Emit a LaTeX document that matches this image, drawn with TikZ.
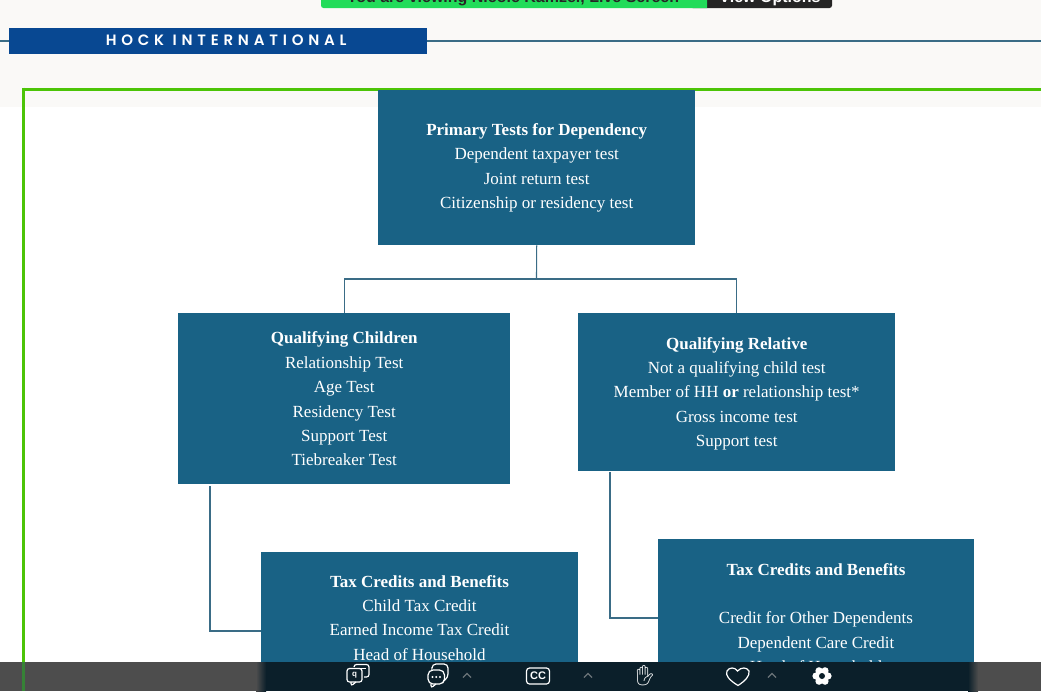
\documentclass[tikz,border=0pt]{standalone}
\usepackage{fontspec}
\setmainfont{Liberation Serif}
\newfontfamily\hockfont{Poppins SemiBold}
\newfontfamily\uifont{Liberation Sans}
\newfontfamily\emojifont{Noto Emoji}
\usetikzlibrary{positioning}
\definecolor{boxblue}{HTML}{196285}
\definecolor{linkblue}{HTML}{3A6C86}
\definecolor{hockblue}{HTML}{084892}
\definecolor{framegreen}{HTML}{4CC407}
\definecolor{pagegrey}{HTML}{FAF9F7}
\definecolor{bannergreen}{HTML}{22DC5A}
\definecolor{bannerdark}{HTML}{252525}
\definecolor{bargrey}{HTML}{4D4D4D}
\definecolor{bardark}{HTML}{0B1F2A}
\definecolor{chevgrey}{HTML}{6A7378}
\tikzstyle{testbox} = [rectangle, fill=boxblue, text=white, align=center, inner sep=0pt, anchor=north west, font=\fontsize{17}{24.4}\selectfont]
\tikzstyle{boxtext} = [text=white, align=center, inner sep=0pt, anchor=north, font=\fontsize{17}{24.4}\selectfont]
\tikzstyle{bannertext} = [inner sep=0pt, anchor=base, font=\uifont\bfseries\fontsize{16}{16}\selectfont]
\tikzstyle{link} = [draw=linkblue, line width=1.1pt]
\tikzstyle{icon} = [draw=white, line width=1.2pt, rounded corners=2.5pt]
\tikzstyle{chevron} = [draw=chevgrey, line width=1.2pt]
\begin{document}
\begin{tikzpicture}[x=1pt,y=-1pt]
  \useasboundingbox (0,0) rectangle (1041,691);
  \fill[white] (0,0) rectangle (1041,691);
  \fill[pagegrey] (0,0) rectangle (1041,107);
  % frame
  \draw[framegreen, line width=3pt] (23.5,89) -- (1041,89);
  \draw[framegreen, line width=3pt] (23.5,87.5) -- (23.5,691);

  % header
  \coordinate (ruleleft) at (0,41);
  \coordinate (ruleright) at (1041,41);
  \draw[link] (ruleleft) -- (ruleright);
  \node (hock) [rectangle, fill=hockblue, text=white, anchor=north west, inner sep=0pt, minimum width=418pt, minimum height=26.5pt, font=\hockfont\fontsize{15}{15}\selectfont] at (9,27.5) {\hspace*{16pt}\raisebox{1pt}{\addfontfeature{LetterSpace=32}HOCK INTERNATIONAL}};

  % banner
  \begin{scope}
    \clip (0,0) rectangle (1041,8);
    \fill[bannerdark, rounded corners=2.5pt] (690,-6) rectangle (832,8);
    \fill[bannergreen] (707,-6) -- (707,8) [rounded corners=2.5pt] -- (321,8) -- (321,-6) -- cycle;
    \node (viewing) [bannertext, text=black!85] at (513,2) {You are viewing Nicole Kamzel, Live Screen};
    \node (options) [bannertext, text=white] at (770,2) {View Options};
  \end{scope}

  % boxes
  \node (primary) [testbox, minimum width=317pt, minimum height=155pt] at (378,90) {\textbf{Primary Tests for Dependency}\\Dependent taxpayer test\\Joint return test\\Citizenship or residency test};
  \node (children) [testbox, minimum width=332pt, minimum height=171pt] at (178,313) {\rule{0pt}{12.5pt}\textbf{Qualifying Children}\\Relationship Test\\Age Test\\Residency Test\\Support Test\\Tiebreaker Test};
  \node (relative) [testbox, minimum width=317pt, minimum height=158pt] at (578,313) {\rule{0pt}{15pt}\textbf{Qualifying Relative}\\Not a qualifying child test\\Member of HH \textbf{or} relationship test*\\Gross income test\\Support test};
  \node (childcredits) [testbox, minimum width=317pt, minimum height=139pt] at (261,552) {};
  \node (relcredits) [testbox, minimum width=316pt, minimum height=152pt] at (658,539) {};
  \node (childtext) [boxtext] at (419.5,575) {\textbf{Tax Credits and Benefits}\\Child Tax Credit\\Earned Income Tax Credit\\Head of Household};
  \node (reltext) [boxtext] at (816,563) {\textbf{Tax Credits and Benefits}\\[24.4pt]Credit for Other Dependents\\Dependent Care Credit\\Head of Household};

  % connectors
  \coordinate (split) at (536.5,279);
  \draw[link] (primary.south) -- (split);
  \draw[link] (split) -| (children.north);
  \draw[link] (split) -| (relative.north);
  \coordinate (childdrop) at (210,486);
  \coordinate (reldrop) at (610,472);
  \draw[link] (childdrop) |- (childcredits.west |- 0,631);
  \draw[link] (reldrop) |- (relcredits.west |- 0,618);

  % toolbar
  \fill[bargrey] (0,662) rectangle (1041,691);
  \fill[green!30!bargrey] (22,662) rectangle (25,691);
  \fill[bardark] (262,662) rectangle (973,691);
  \shade[left color=bargrey, right color=bardark] (256,662) rectangle (266,691);
  \shade[left color=bardark, right color=bargrey] (968,662) rectangle (978,691);

  % icons
  \draw[icon] (347,668.5) rectangle (362,682);
  \draw[icon] (351,682) -- (351,686) -- (356,682);
  \node (searchmark) [text=white, inner sep=0pt, font=\uifont\bfseries\fontsize{8}{8}\selectfont] at (354.5,675) {q};
  \draw[icon] (354,667) -- (354,664.5) -- (369,664.5) -- (369,677) -- (364,677);
  \draw[white, line width=1pt] (358,668) -- (366,668);
  \draw[icon, rounded corners=5pt] (428,670) rectangle (444.5,684);
  \draw[icon] (431,684) -- (431,688) -- (436,684);
  \draw[icon, rounded corners=4pt] (432,667) -- (432,664) -- (448,664) -- (448,678) -- (445,680);
  \foreach \dotx in {432.5,436.2,440}
    \fill[white] (\dotx,677) circle (1.1pt);
  \foreach \chevx in {467,588,772}
    \draw[chevron] (\chevx-4,677.5) -- (\chevx,673.5) -- (\chevx+4,677.5);
  \node (cc) [draw=white, line width=1.2pt, rounded corners=3pt, text=white, inner sep=0pt, minimum width=23pt, minimum height=16pt, font=\uifont\bfseries\fontsize{11}{11}\selectfont] at (538,676) {CC};
  \node (hand) [text=white, inner sep=0pt, font=\emojifont\fontsize{20}{20}\selectfont] at (645,676) {\char"270B};
  \draw[white, line width=1.2pt] (738,685.5) .. controls (729,680) and (725,675) .. (727,671) .. controls (729,667) and (735,667) .. (737.5,671) .. controls (741,667) and (747,667) .. (749,671) .. controls (750,676) and (745,681) .. (738,685.5) -- cycle;
  \foreach \petal in {0,60,...,300}
    \fill[white] (822,676) ++(\petal:6pt) circle (3.6pt);
  \fill[white] (822,676) circle (6pt);
  \fill[bardark] (822,676) circle (3pt);
\end{tikzpicture}
\end{document}
